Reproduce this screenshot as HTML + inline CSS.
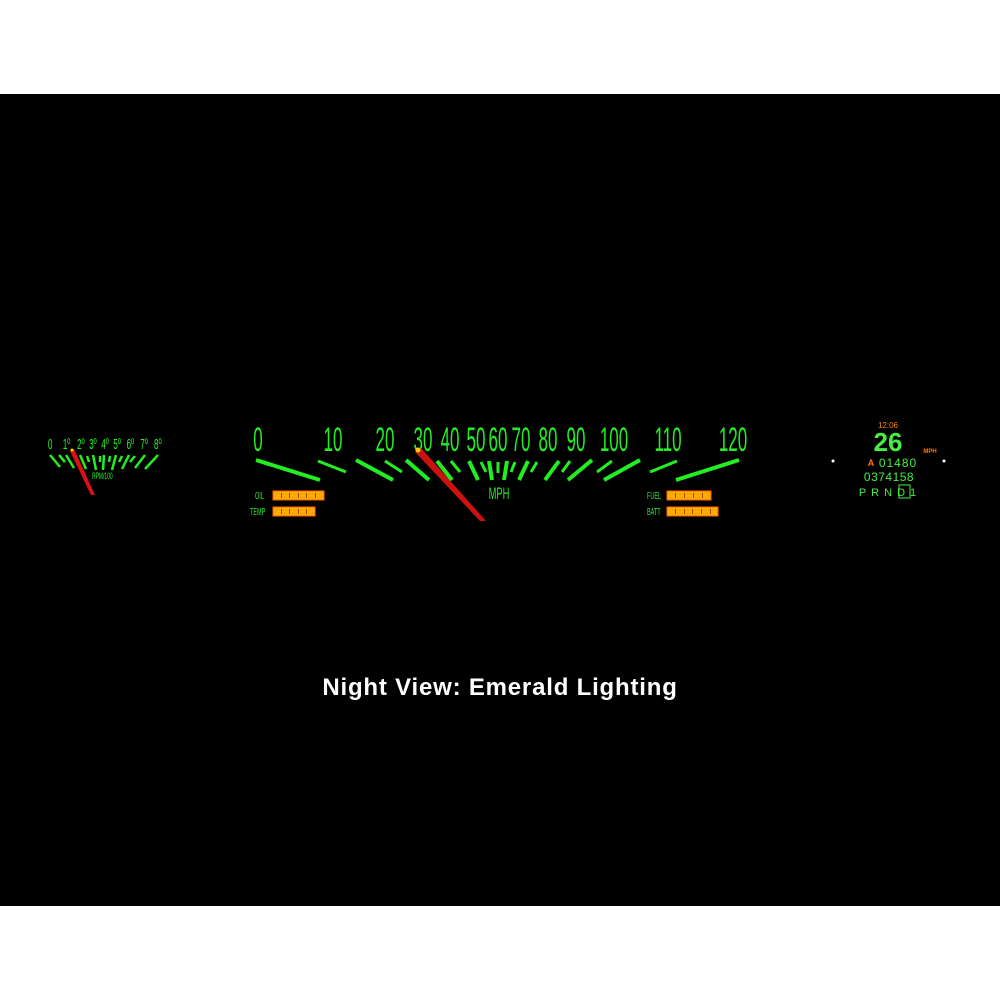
<!DOCTYPE html>
<html><head><style>
html,body{margin:0;padding:0;background:#fff;}
svg{display:block}
</style></head><body>
<svg width="1000" height="1000" viewBox="0 0 1000 1000" xmlns="http://www.w3.org/2000/svg">
<rect x="0" y="0" width="1000" height="1000" fill="#fff"/>
<rect x="0" y="94" width="1000" height="812" fill="#000"/>

<!-- Speedometer numbers -->
<g fill="#22ee22" font-family="Liberation Sans, sans-serif" font-size="34" text-anchor="middle">
<g transform="translate(0,451) scale(0.5,1)">
<text x="516">0</text>
<text x="666">10</text>
<text x="770">20</text>
<text x="846">30</text>
<text x="900">40</text>
<text x="952">50</text>
<text x="996">60</text>
<text x="1042">70</text>
<text x="1096">80</text>
<text x="1152">90</text>
<text x="1228">100</text>
<text x="1336">110</text>
<text x="1466">120</text>
</g>
</g>

<!-- Speedo ticks -->
<g stroke="#22ee22" stroke-linecap="butt">
<line x1="256" y1="460" x2="320" y2="480" stroke-width="4"/>
<line x1="318" y1="461" x2="346" y2="472" stroke-width="3"/>
<line x1="356" y1="460" x2="393" y2="480" stroke-width="4"/>
<line x1="385" y1="461" x2="402" y2="472" stroke-width="3"/>
<line x1="406" y1="460" x2="429" y2="480" stroke-width="4"/>
<line x1="437" y1="461" x2="452" y2="480" stroke-width="4"/>
<line x1="451" y1="461" x2="460" y2="472" stroke-width="3"/>
<line x1="469" y1="461" x2="478" y2="480" stroke-width="4"/>
<line x1="481" y1="462" x2="486" y2="472" stroke-width="3"/>
<line x1="489" y1="461" x2="492" y2="480" stroke-width="4"/>
<line x1="498" y1="462" x2="498" y2="473" stroke-width="3"/>
<line x1="507" y1="461" x2="504" y2="480" stroke-width="4"/>
<line x1="515" y1="462" x2="511" y2="472" stroke-width="3"/>
<line x1="528" y1="461" x2="519" y2="480" stroke-width="4"/>
<line x1="537" y1="462" x2="531" y2="472" stroke-width="3"/>
<line x1="559" y1="461" x2="545" y2="480" stroke-width="4"/>
<line x1="570" y1="461" x2="562" y2="472" stroke-width="3"/>
<line x1="592" y1="460" x2="568" y2="480" stroke-width="4"/>
<line x1="612" y1="461" x2="597" y2="472" stroke-width="3"/>
<line x1="640" y1="460" x2="604" y2="480" stroke-width="4"/>
<line x1="677" y1="461" x2="650" y2="472" stroke-width="3"/>
<line x1="739" y1="460" x2="676" y2="480" stroke-width="4"/>
</g>
<g transform="translate(499,499) scale(0.55,1)"><text x="0" y="0" fill="#22ee22" font-family="Liberation Sans, sans-serif" font-size="17" text-anchor="middle">MPH</text></g>

<!-- small gauges -->
<g fill="#22ee22" font-family="Liberation Sans, sans-serif" font-size="10">
<g transform="translate(255,499) scale(0.55,1)"><text>OIL</text></g>
<g transform="translate(250,515) scale(0.55,1)"><text>TEMP</text></g>
<g transform="translate(647,499) scale(0.55,1)"><text>FUEL</text></g>
<g transform="translate(647,515) scale(0.55,1)"><text>BATT</text></g>
</g>
<g fill="#ffaa00" stroke="#ff6600" stroke-width="1">
<rect x="273" y="491" width="51" height="9"/>
<rect x="273" y="507" width="42" height="9"/>
<rect x="667" y="491" width="44" height="9"/>
<rect x="667" y="507" width="51" height="9"/>
</g>
<g fill="#aa4400">
<rect x="281" y="493" width="1" height="5"/><rect x="289" y="493" width="1" height="5"/><rect x="298" y="493" width="1" height="5"/><rect x="306" y="493" width="1" height="5"/><rect x="315" y="493" width="1" height="5"/>
<rect x="281" y="509" width="1" height="5"/><rect x="289" y="509" width="1" height="5"/><rect x="298" y="509" width="1" height="5"/><rect x="306" y="509" width="1" height="5"/>
<rect x="675" y="493" width="1" height="5"/><rect x="684" y="493" width="1" height="5"/><rect x="693" y="493" width="1" height="5"/><rect x="702" y="493" width="1" height="5"/>
<rect x="675" y="509" width="1" height="5"/><rect x="684" y="509" width="1" height="5"/><rect x="692" y="509" width="1" height="5"/><rect x="701" y="509" width="1" height="5"/><rect x="710" y="509" width="1" height="5"/>
</g>

<!-- speedo needle -->
<polygon points="415,452 421,448 486,521 480,521" fill="#cc1111"/>
<circle cx="418" cy="450" r="2.5" fill="#ffcc00"/>

<!-- Tach -->
<g fill="#22ee22" font-family="Liberation Sans, sans-serif" font-size="15">
<g transform="translate(0,449) scale(0.55,1)">
<text x="87">0</text><text x="114">1º</text><text x="140">2º</text><text x="162">3º</text><text x="184">4º</text><text x="206">5º</text><text x="230">6º</text><text x="255">7º</text><text x="280">8º</text>
</g>
<g transform="translate(92,479) scale(0.55,1)"><text font-size="9">RPM/100</text></g>
</g>
<g stroke="#22ee22" stroke-width="2.5">
<line x1="50" y1="455" x2="60" y2="467"/>
<line x1="59" y1="455" x2="65" y2="462"/>
<line x1="66" y1="455" x2="74" y2="468"/>
<line x1="74" y1="455" x2="78" y2="462"/>
<line x1="80" y1="455" x2="86" y2="469"/>
<line x1="87" y1="456" x2="89" y2="462"/>
<line x1="93" y1="455" x2="96" y2="470"/>
<line x1="100" y1="456" x2="100" y2="462"/>
<line x1="104" y1="455" x2="103" y2="470"/>
<line x1="110" y1="456" x2="109" y2="462"/>
<line x1="116" y1="455" x2="112" y2="470"/>
<line x1="122" y1="456" x2="119" y2="462"/>
<line x1="129" y1="455" x2="122" y2="469"/>
<line x1="135" y1="456" x2="130" y2="462"/>
<line x1="145" y1="455" x2="135" y2="468"/>
<line x1="158" y1="455" x2="145" y2="469"/>
</g>
<polygon points="70,451 74,449 95,495 91,495" fill="#dd1111"/>
<circle cx="72" cy="450" r="1.5" fill="#ffcc00"/>

<!-- Right cluster -->
<circle cx="833" cy="461" r="1.5" fill="#fff"/>
<circle cx="944" cy="461" r="1.5" fill="#fff"/>
<g font-family="Liberation Sans, sans-serif" text-anchor="middle">
<text x="888" y="428" fill="#ff8800" font-size="8">12:06</text>
<text x="888" y="451" fill="#44ee44" font-size="26" font-weight="bold">26</text>
<text x="930" y="453" fill="#ff7700" font-size="6" font-weight="bold">MPH</text>
<text x="871" y="466" fill="#ff7700" font-size="9" font-weight="bold">A</text>
<text x="898" y="467" fill="#44ee44" font-size="12" letter-spacing="1">01480</text>
<text x="889" y="481" fill="#44ee44" font-size="12" letter-spacing="0.5">0374158</text>
<text x="890" y="496" fill="#44ee44" font-size="11" letter-spacing="5">PRND1</text>
</g>
<rect x="899" y="485" width="11" height="13" fill="none" stroke="#44ee44" stroke-width="1"/>

<text x="500" y="695" fill="#fff" font-family="Liberation Sans, sans-serif" font-size="24" font-weight="bold" text-anchor="middle" letter-spacing="0.8">Night View: Emerald Lighting</text>
</svg>
</body></html>
